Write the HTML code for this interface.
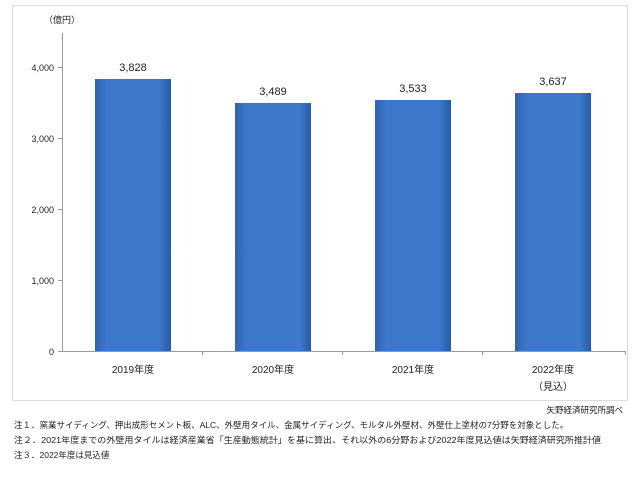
<!DOCTYPE html>
<html><head><meta charset="utf-8"><style>
body{margin:0;background:#fff;}
svg text{font-family:"Liberation Sans","Noto Sans CJK JP",sans-serif;fill:#222;}
</style></head><body>
<svg width="640" height="485" viewBox="0 0 640 485" xmlns="http://www.w3.org/2000/svg">
<defs>
<linearGradient id="g" x1="0" x2="1" y1="0" y2="0">
<stop offset="0" stop-color="#2f64b0"/><stop offset="0.15" stop-color="#3c78cc"/><stop offset="0.85" stop-color="#3c78cc"/><stop offset="1" stop-color="#2a5ba3"/>
</linearGradient>
</defs>
<rect x="12.5" y="5.5" width="615" height="395" fill="#fff" stroke="#ddd"/>
<text x="62" y="23" font-size="9" text-anchor="middle">（億円）</text>
<line x1="62.5" y1="33" x2="62.5" y2="351" stroke="#999"/>
<line x1="62" y1="351.5" x2="626" y2="351.5" stroke="#999"/>
<g stroke="#999">
<line x1="58" y1="67.5" x2="62" y2="67.5"/><line x1="58" y1="138.5" x2="62" y2="138.5"/><line x1="58" y1="209.5" x2="62" y2="209.5"/><line x1="58" y1="280.5" x2="62" y2="280.5"/><line x1="58" y1="351.5" x2="62" y2="351.5"/>
<line x1="202.5" y1="351" x2="202.5" y2="355"/><line x1="342.5" y1="351" x2="342.5" y2="355"/><line x1="482.5" y1="351" x2="482.5" y2="355"/><line x1="625.5" y1="351" x2="625.5" y2="355"/>
</g>
<g font-size="9" text-anchor="end">
<text x="54" y="71">4,000</text><text x="54" y="142">3,000</text><text x="54" y="213">2,000</text><text x="54" y="284">1,000</text><text x="54" y="355">0</text>
</g>
<rect x="95" y="79" width="76" height="272" fill="url(#g)"/>
<rect x="235" y="103" width="76" height="248" fill="url(#g)"/>
<rect x="375" y="100" width="76" height="251" fill="url(#g)"/>
<rect x="515" y="93" width="76" height="258" fill="url(#g)"/>
<g font-size="11" text-anchor="middle">
<text x="133" y="71">3,828</text><text x="273" y="95">3,489</text><text x="413" y="92">3,533</text><text x="553" y="85">3,637</text>
</g>
<g font-size="10" text-anchor="middle">
<text x="133" y="373">2019年度</text><text x="273" y="373">2020年度</text><text x="413" y="373">2021年度</text><text x="553" y="373">2022年度</text><text x="553" y="390">（見込）</text>
</g>
<text x="623" y="413" font-size="8.5" text-anchor="end">矢野経済研究所調べ</text>
<g font-size="8.5">
<text x="14" y="428">注１．窯業サイディング、押出成形セメント板、ALC、外壁用タイル、金属サイディング、モルタル外壁材、外壁仕上塗材の7分野を対象とした。</text>
<text x="14" y="443" textLength="587" lengthAdjust="spacingAndGlyphs">注２．2021年度までの外壁用タイルは経済産業省「生産動態統計」を基に算出、それ以外の6分野および2022年度見込値は矢野経済研究所推計値</text>
<text x="14" y="458">注３．2022年度は見込値</text>
</g>
</svg>
</body></html>
